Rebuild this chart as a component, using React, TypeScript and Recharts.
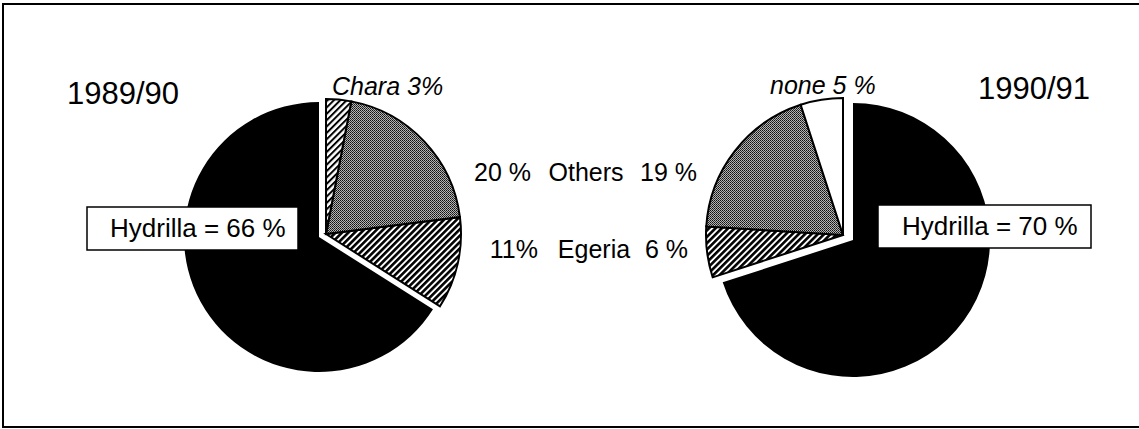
import { PieChart, Pie, Cell } from "recharts";

const W = 1139;
const H = 429;
const FONT = "'Liberation Sans', Arial, Helvetica, sans-serif";

// species shares, listed counter-clockwise (89/90) / clockwise (90/91) from 12 o'clock
const SPECIES_8990 = ["Hydrilla", "Egeria", "Others", "Chara"];
const PCT_8990 = [66, 11, 20, 3];
const SPECIES_9091 = ["Hydrilla", "Egeria", "Others", "none"];
const PCT_9091 = [70, 6, 19, 5];

const YEARS = ["1989/90", "1990/91"];
const MID_ROWS = [
  ["20 %", "Others", "19 %"],
  ["11%", "Egeria", "6 %"],
];

const FILLS: Record<string, string> = {
  Hydrilla: "#000",
  Egeria: "url(#hatchDense)",
  Others: "url(#stipple)",
  Chara: "url(#hatchLight)",
  none: "#fff",
};

const toData = (names: string[], values: number[]) =>
  names.map((name, i) => ({ name, value: values[i] }));

const data8990 = toData(SPECIES_8990, PCT_8990);
const data9091 = toData(SPECIES_9091, PCT_9091);

export default function App() {
  return (
    <div style={{ position: "absolute", left: 0, top: 0, width: W, height: H, background: "#fff" }}>
      <PieChart width={W} height={H} margin={{ top: 0, right: 0, bottom: 0, left: 0 }}>
        <defs>
          <pattern id="hatchLight" width="4.5" height="4.5" patternUnits="userSpaceOnUse" patternTransform="rotate(45)">
            <rect width="4.5" height="4.5" fill="#fff" />
            <rect width="2" height="4.5" fill="#000" />
          </pattern>
          <pattern id="hatchDense" width="4.5" height="4.5" patternUnits="userSpaceOnUse" patternTransform="rotate(45)">
            <rect width="4.5" height="4.5" fill="#fff" />
            <rect width="2.6" height="4.5" fill="#000" />
          </pattern>
          <pattern id="stipple" width="2" height="2" patternUnits="userSpaceOnUse">
            <rect width="2" height="2" fill="#b4b4b4" />
            <rect width="1" height="1" fill="#111" />
            <rect x="1" y="1" width="1" height="1" fill="#333" />
          </pattern>
        </defs>

        {/* 1989/90: Hydrilla body */}
        <Pie data={data8990} dataKey="value" nameKey="name" cx={319} cy={237} outerRadius={135}
          startAngle={90} endAngle={450} isAnimationActive={false} legendType="none">
          {data8990.map((d) => (
            <Cell key={d.name} fill={d.name === "Hydrilla" ? "#000" : "none"} stroke="none" />
          ))}
        </Pie>
        {/* 1989/90: pulled-out slices */}
        <Pie data={data8990} dataKey="value" nameKey="name" cx={326} cy={234} outerRadius={135}
          startAngle={90} endAngle={450} isAnimationActive={false} legendType="none">
          {data8990.map((d) => (
            <Cell key={d.name} fill={d.name === "Hydrilla" ? "none" : FILLS[d.name]}
              stroke={d.name === "Hydrilla" ? "none" : "#000"} strokeWidth={2} />
          ))}
        </Pie>

        {/* 1990/91: Hydrilla body */}
        <Pie data={data9091} dataKey="value" nameKey="name" cx={853} cy={240} outerRadius={137}
          startAngle={90} endAngle={-270} isAnimationActive={false} legendType="none">
          {data9091.map((d) => (
            <Cell key={d.name} fill={d.name === "Hydrilla" ? "#000" : "none"} stroke="none" />
          ))}
        </Pie>
        {/* 1990/91: pulled-out slices */}
        <Pie data={data9091} dataKey="value" nameKey="name" cx={843} cy={235} outerRadius={137}
          startAngle={90} endAngle={-270} isAnimationActive={false} legendType="none">
          {data9091.map((d) => (
            <Cell key={d.name} fill={d.name === "Hydrilla" ? "none" : FILLS[d.name]}
              stroke={d.name === "Hydrilla" ? "none" : "#000"} strokeWidth={2} />
          ))}
        </Pie>
      </PieChart>

      <svg width={W} height={H} style={{ position: "absolute", left: 0, top: 0, pointerEvents: "none" }}
        fontFamily={FONT} fill="#000">
        <rect x={3} y={4} width={W + 10} height={423} fill="none" stroke="#000" strokeWidth={2} />

        <text x={67} y={104} fontSize={31}>{YEARS[0]}</text>
        <text x={1090} y={99} fontSize={31} textAnchor="end">{YEARS[1]}</text>

        <text x={332} y={95} fontSize={25} fontStyle="italic">{`${SPECIES_8990[3]} ${PCT_8990[3]}%`}</text>
        <text x={770} y={94} fontSize={25} fontStyle="italic">{`${SPECIES_9091[3]} ${PCT_9091[3]} %`}</text>

        {MID_ROWS.map((row, i) => (
          <g key={i} fontSize={25}>
            <text x={i === 0 ? 531 : 538} y={i === 0 ? 181 : 258} textAnchor="end">{row[0]}</text>
            <text x={i === 0 ? 586 : 594} y={i === 0 ? 181 : 258} textAnchor="middle">{row[1]}</text>
            <text x={i === 0 ? 640 : 645} y={i === 0 ? 181 : 258}>{row[2]}</text>
          </g>
        ))}

        <rect x={87} y={207} width={211} height={43} fill="#fff" stroke="#000" strokeWidth={1.5} />
        <text x={110} y={237} fontSize={26}>{`${SPECIES_8990[0]} = ${PCT_8990[0]} %`}</text>
        <rect x={878} y={205} width={213} height={43} fill="#fff" stroke="#000" strokeWidth={1.5} />
        <text x={902} y={235} fontSize={26}>{`${SPECIES_9091[0]} = ${PCT_9091[0]} %`}</text>
      </svg>
    </div>
  );
}
